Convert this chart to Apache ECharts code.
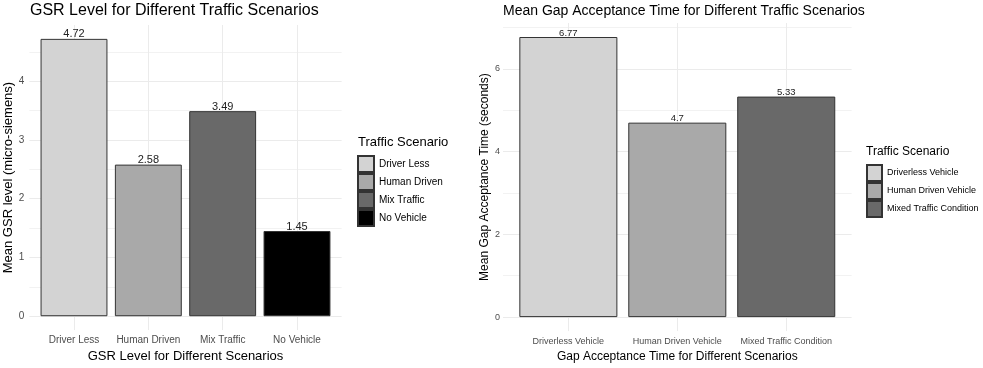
<!DOCTYPE html>
<html>
<head>
<meta charset="utf-8">
<script src="https://cdn.jsdelivr.net/npm/echarts@6/dist/echarts.min.js"></script>
<style>
html,body{margin:0;padding:0;background:#fff;}
#chart{width:983px;height:368px;}
</style>
</head>
<body>
<div id="chart"></div>
<script>
// Left chart data
const gsrCategories = ['Driver Less', 'Human Driven', 'Mix Traffic', 'No Vehicle'];
const gsrValues = [4.72, 2.58, 3.49, 1.45];
const gsrColors = ['#D3D3D3', '#A9A9A9', '#696969', '#000000'];
const gsrYTicks = [0, 1, 2, 3, 4];
const gsrYMinor = [0.5, 1.5, 2.5, 3.5, 4.5];

// Right chart data
const gapCategories = ['Driverless Vehicle', 'Human Driven Vehicle', 'Mixed Traffic Condition'];
const gapValues = [6.77, 4.7, 5.33];
const gapColors = ['#D3D3D3', '#A9A9A9', '#696969'];
const gapYTicks = [0, 2, 4, 6];
const gapYMinor = [1, 3, 5, 7];

const FONT = '"Liberation Sans", Arial, sans-serif';
const GRID_COLOR = '#ebebeb';
const MINOR_COLOR = '#f2f2f2';
const AXIS_TEXT = '#4d4d4d';

// ggplot-like expansion
function yRange(vals) { const mx = Math.max(...vals); return [-0.05 * mx, mx * 1.05]; }
const gsrY = yRange(gsrValues);
const gapY = yRange(gapValues);

const W = 983;
const leftGrid = { left: 29.4, right: W - 341.6, top: 25, bottom: 368 - 332 };
const rightGrid = { left: 503, right: W - 851.6, top: 23, bottom: 368 - 332 };
const leftPlotW = 341.6 - 29.4;
const rightPlotW = 851.6 - 503;
const leftBarW = leftPlotW / (gsrCategories.length + 0.2) * 0.9;
const rightBarW = rightPlotW / (gapCategories.length + 0.2) * 0.9;

function idx(n) { return Array.from({length: n}, (_, i) => i); }

function xAxisFor(cats, gridIndex, labelSize, name, nameSize, nameGap, margin) {
  return {
    type: 'value', gridIndex: gridIndex,
    min: -0.6, max: cats.length - 0.4,
    name: name, nameLocation: 'middle', nameGap: nameGap,
    nameTextStyle: { fontFamily: FONT, fontSize: nameSize, color: '#000' },
    axisLine: { show: false },
    axisTick: { show: false, customValues: idx(cats.length) },
    axisLabel: { customValues: idx(cats.length), formatter: v => cats[Math.round(v)] || '',
      fontFamily: FONT, fontSize: labelSize, color: AXIS_TEXT, margin: margin },
    splitLine: { show: true, lineStyle: { color: GRID_COLOR, width: 1 } }
  };
}

function yAxisFor(range, ticks, gridIndex, labelSize, name, nameSize, nameGap, margin) {
  return {
    type: 'value', gridIndex: gridIndex, min: range[0], max: range[1],
    name: name, nameLocation: 'middle', nameGap: nameGap,
    nameTextStyle: { fontFamily: FONT, fontSize: nameSize, color: '#000' },
    axisLine: { show: false },
    axisTick: { show: false, customValues: ticks },
    axisLabel: { customValues: ticks, fontFamily: FONT, fontSize: labelSize, color: AXIS_TEXT, margin: margin },
    splitLine: { show: true, lineStyle: { color: GRID_COLOR, width: 1 } }
  };
}
function yMinorFor(range, ticks, gridIndex) {
  return {
    type: 'value', gridIndex: gridIndex, min: range[0], max: range[1], position: 'left',
    axisLine: { show: false },
    axisTick: { show: false, customValues: ticks },
    axisLabel: { show: false },
    splitLine: { show: true, lineStyle: { color: MINOR_COLOR, width: 1 } }
  };
}

const series = [];
gsrCategories.forEach((c, i) => {
  series.push({
    type: 'bar', name: c, xAxisIndex: 0, yAxisIndex: 0,
    barWidth: leftBarW, barGap: '-100%',
    data: [[i, gsrValues[i]]],
    itemStyle: { color: gsrColors[i], borderColor: '#333', borderWidth: 1 },
    label: { show: true, position: 'top', distance: -1, formatter: p => String(p.value[1]),
      fontFamily: FONT, fontSize: 11, color: '#222' },
    z: 3
  });
});
gapCategories.forEach((c, i) => {
  series.push({
    type: 'bar', name: c, xAxisIndex: 1, yAxisIndex: 2,
    barWidth: rightBarW, barGap: '-100%',
    data: [[i, gapValues[i]]],
    itemStyle: { color: gapColors[i], borderColor: '#333', borderWidth: 1 },
    label: { show: true, position: 'top', distance: -1, formatter: p => String(p.value[1]),
      fontFamily: FONT, fontSize: 9.5, color: '#222' },
    z: 3
  });
});

const option = {
  backgroundColor: '#fff',
  animation: false,
  title: [
    { text: 'GSR Level for Different Traffic Scenarios', left: 30, top: 3, padding: 0,
      textStyle: { fontFamily: FONT, fontSize: 16, fontWeight: 'normal', color: '#000' } },
    { text: 'Mean Gap Acceptance Time for Different Traffic Scenarios', left: 503, top: 4, padding: 0,
      textStyle: { fontFamily: FONT, fontSize: 14, fontWeight: 'normal', color: '#000' } },
    { text: 'Traffic Scenario', left: 358, top: 136, padding: 0,
      textStyle: { fontFamily: FONT, fontSize: 13, fontWeight: 'normal', color: '#000' } },
    { text: 'Traffic Scenario', left: 866, top: 146, padding: 0,
      textStyle: { fontFamily: FONT, fontSize: 12, fontWeight: 'normal', color: '#000' } }
  ],
  grid: [
    Object.assign({ containLabel: false }, leftGrid),
    Object.assign({ containLabel: false }, rightGrid)
  ],
  xAxis: [
    xAxisFor(gsrCategories, 0, 10, 'GSR Level for Different Scenarios', 13, 17, 5),
    xAxisFor(gapCategories, 1, 9, 'Gap Acceptance Time for Different Scenarios', 12, 18, 6)
  ],
  yAxis: [
    yAxisFor(gsrY, gsrYTicks, 0, 10, 'Mean GSR level (micro-siemens)', 13, 11, 5),
    yMinorFor(gsrY, gsrYMinor, 0),
    yAxisFor(gapY, gapYTicks, 1, 9, 'Mean Gap Acceptance Time (seconds)', 12, 8, 3),
    yMinorFor(gapY, gapYMinor, 1)
  ],
  legend: [
    { data: gsrCategories, orient: 'vertical', left: 357, top: 155, padding: 0, itemGap: 0,
      itemWidth: 16, itemHeight: 16, icon: 'rect', selectedMode: false,
      textStyle: { fontFamily: FONT, fontSize: 10, color: '#000' } },
    { data: gapCategories, orient: 'vertical', left: 866, top: 164, padding: 0, itemGap: 0,
      itemWidth: 15, itemHeight: 16, icon: 'rect', selectedMode: false,
      textStyle: { fontFamily: FONT, fontSize: 9, color: '#000' } }
  ],
  series: series
};

const chart = echarts.init(document.getElementById('chart'), null, { renderer: 'canvas' });
chart.setOption(option);
</script>
</body>
</html>
